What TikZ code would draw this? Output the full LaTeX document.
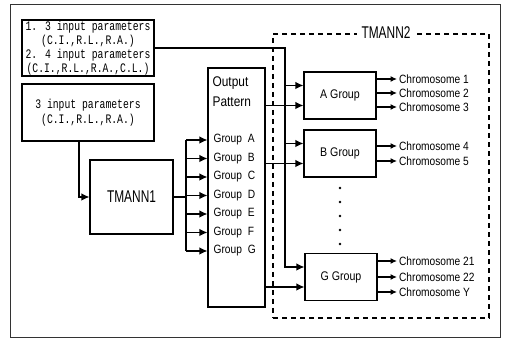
\documentclass[tikz,border=0pt]{standalone}
\usepackage{fontspec}
\newfontfamily\narrowfont[FakeStretch=0.85]{Liberation Sans}
\newfontfamily\tallfont[FakeStretch=0.7]{Liberation Sans}
\newfontfamily\plotfont[FakeStretch=0.75]{Liberation Mono}
\usetikzlibrary{arrows.meta,positioning,calc}

\tikzset{
  blk/.style={draw,line width=1.2pt,inner sep=0pt},
  inbox/.style={blk,minimum width=132pt,align=center,font=\plotfont\fontsize{13}{14}\selectfont},
  grp/.style={blk,minimum width=72pt,minimum height=47pt,font=\narrowfont\fontsize{12.5}{14}\selectfont},
  gl/.style={anchor=west,inner sep=0pt,font=\narrowfont\fontsize{12}{14}\selectfont},
  chrom/.style={anchor=west,inner sep=1.5pt,font=\narrowfont\fontsize{12}{13}\selectfont},
  small/.style={-{Latex[length=6.5pt,width=6pt]}}
}

\begin{document}
\begin{tikzpicture}[x=1pt,y=-1pt,>={Latex[length=8pt,width=7.5pt]},line width=1.2pt]
  \useasboundingbox (0,0) rectangle (507,339);
  \draw[line width=0.8pt,black!80] (10,4) rectangle (500,337);

  % inputs and first net
  \node[inbox,line width=2pt,minimum height=56pt] (inA) at (88,48) {1. 3 input parameters\\(C.I.,R.L.,R.A.)\\2. 4 input parameters\\(C.I.,R.L.,R.A.,C.L.)};
  \node[inbox,minimum height=57pt,font=\plotfont\fontsize{13}{15}\selectfont] (inB) at (88,112.5) {3 input parameters\\(C.I.,R.L.,R.A.)};
  \node[blk,minimum width=83pt,minimum height=74pt,font=\tallfont\fontsize{17}{18}\selectfont] (tm1) at (131.5,197) {TMANN1};
  \draw[->] ($(inB.south)+(-9,0)$) |- (tm1.west);

  % output pattern
  \node[blk,minimum width=57pt,minimum height=239pt] (out) at (236.5,187.5) {};
  \node[anchor=north west,align=left,inner sep=0pt,font=\narrowfont\fontsize{14}{20}\selectfont] (pat) at (212,76) {Output\\Pattern};
  \foreach \g [count=\i from 0] in {A,B,C,D,E,F,G}
    \node[gl] (g\g) at (213,{140+18.5*\i}) {Group\enspace\g};
  \coordinate (bus1) at (186,0);
  \draw (tm1.east) -- (tm1.east -| bus1);
  \draw (bus1 |- gA.west) -- (bus1 |- gG.west);
  \foreach \g in {A,B,C,D,E,F,G}
    \draw[->] (bus1 |- g\g.west) -- (out.west |- g\g.west);

  % second net
  \node[draw,dashed,dash pattern=on 5pt off 4pt,minimum width=216pt,minimum height=284pt] (tm2box) at (381,176) {};
  \node[fill=white,inner xsep=5pt,inner ysep=1pt,font=\tallfont\fontsize{17}{18}\selectfont] (tm2) at (386,33) {TMANN2};
  \node[grp] (ga) at (340,95.5) {A Group};
  \node[grp] (gb) at (340,153.5) {B Group};
  \node[grp] (gg) at (341,277) {G Group};
  \foreach \y in {188,202,216,230,244}
    \fill (340,\y) circle (1.3pt);

  \coordinate (bus2) at (285,0);
  \draw[->] (inA.east) -| ($(bus2 |- gg.west)+(0,-10)$) -- ($(gg.west)+(0,-10)$);
  \foreach \n in {ga,gb}
    \draw[->] ($(bus2 |- \n.west)+(0,-10)$) -- ($(\n.west)+(0,-10)$);
  \foreach \n in {ga,gb,gg}
    \draw[->] ($(out.east |- \n.west)+(0,10)$) -- ($(\n.west)+(0,10)$);

  % chromosomes
  \node[chrom] (c1) at (397,79) {Chromosome 1};
  \node[chrom] (c2) at (397,93) {Chromosome 2};
  \node[chrom] (c3) at (397,107) {Chromosome 3};
  \node[chrom] (c4) at (397,146) {Chromosome 4};
  \node[chrom] (c5) at (397,161) {Chromosome 5};
  \node[chrom] (c21) at (397,261) {Chromosome 21};
  \node[chrom] (c22) at (397,277) {Chromosome 22};
  \node[chrom] (cY) at (397,292) {Chromosome Y};
  \foreach \c in {c1,c2,c3}
    \draw[small] (ga.east |- \c.west) -- (\c.west);
  \foreach \c in {c4,c5}
    \draw[small] (gb.east |- \c.west) -- (\c.west);
  \foreach \c in {c21,c22,cY}
    \draw[small] (gg.east |- \c.west) -- (\c.west);
\end{tikzpicture}
\end{document}
